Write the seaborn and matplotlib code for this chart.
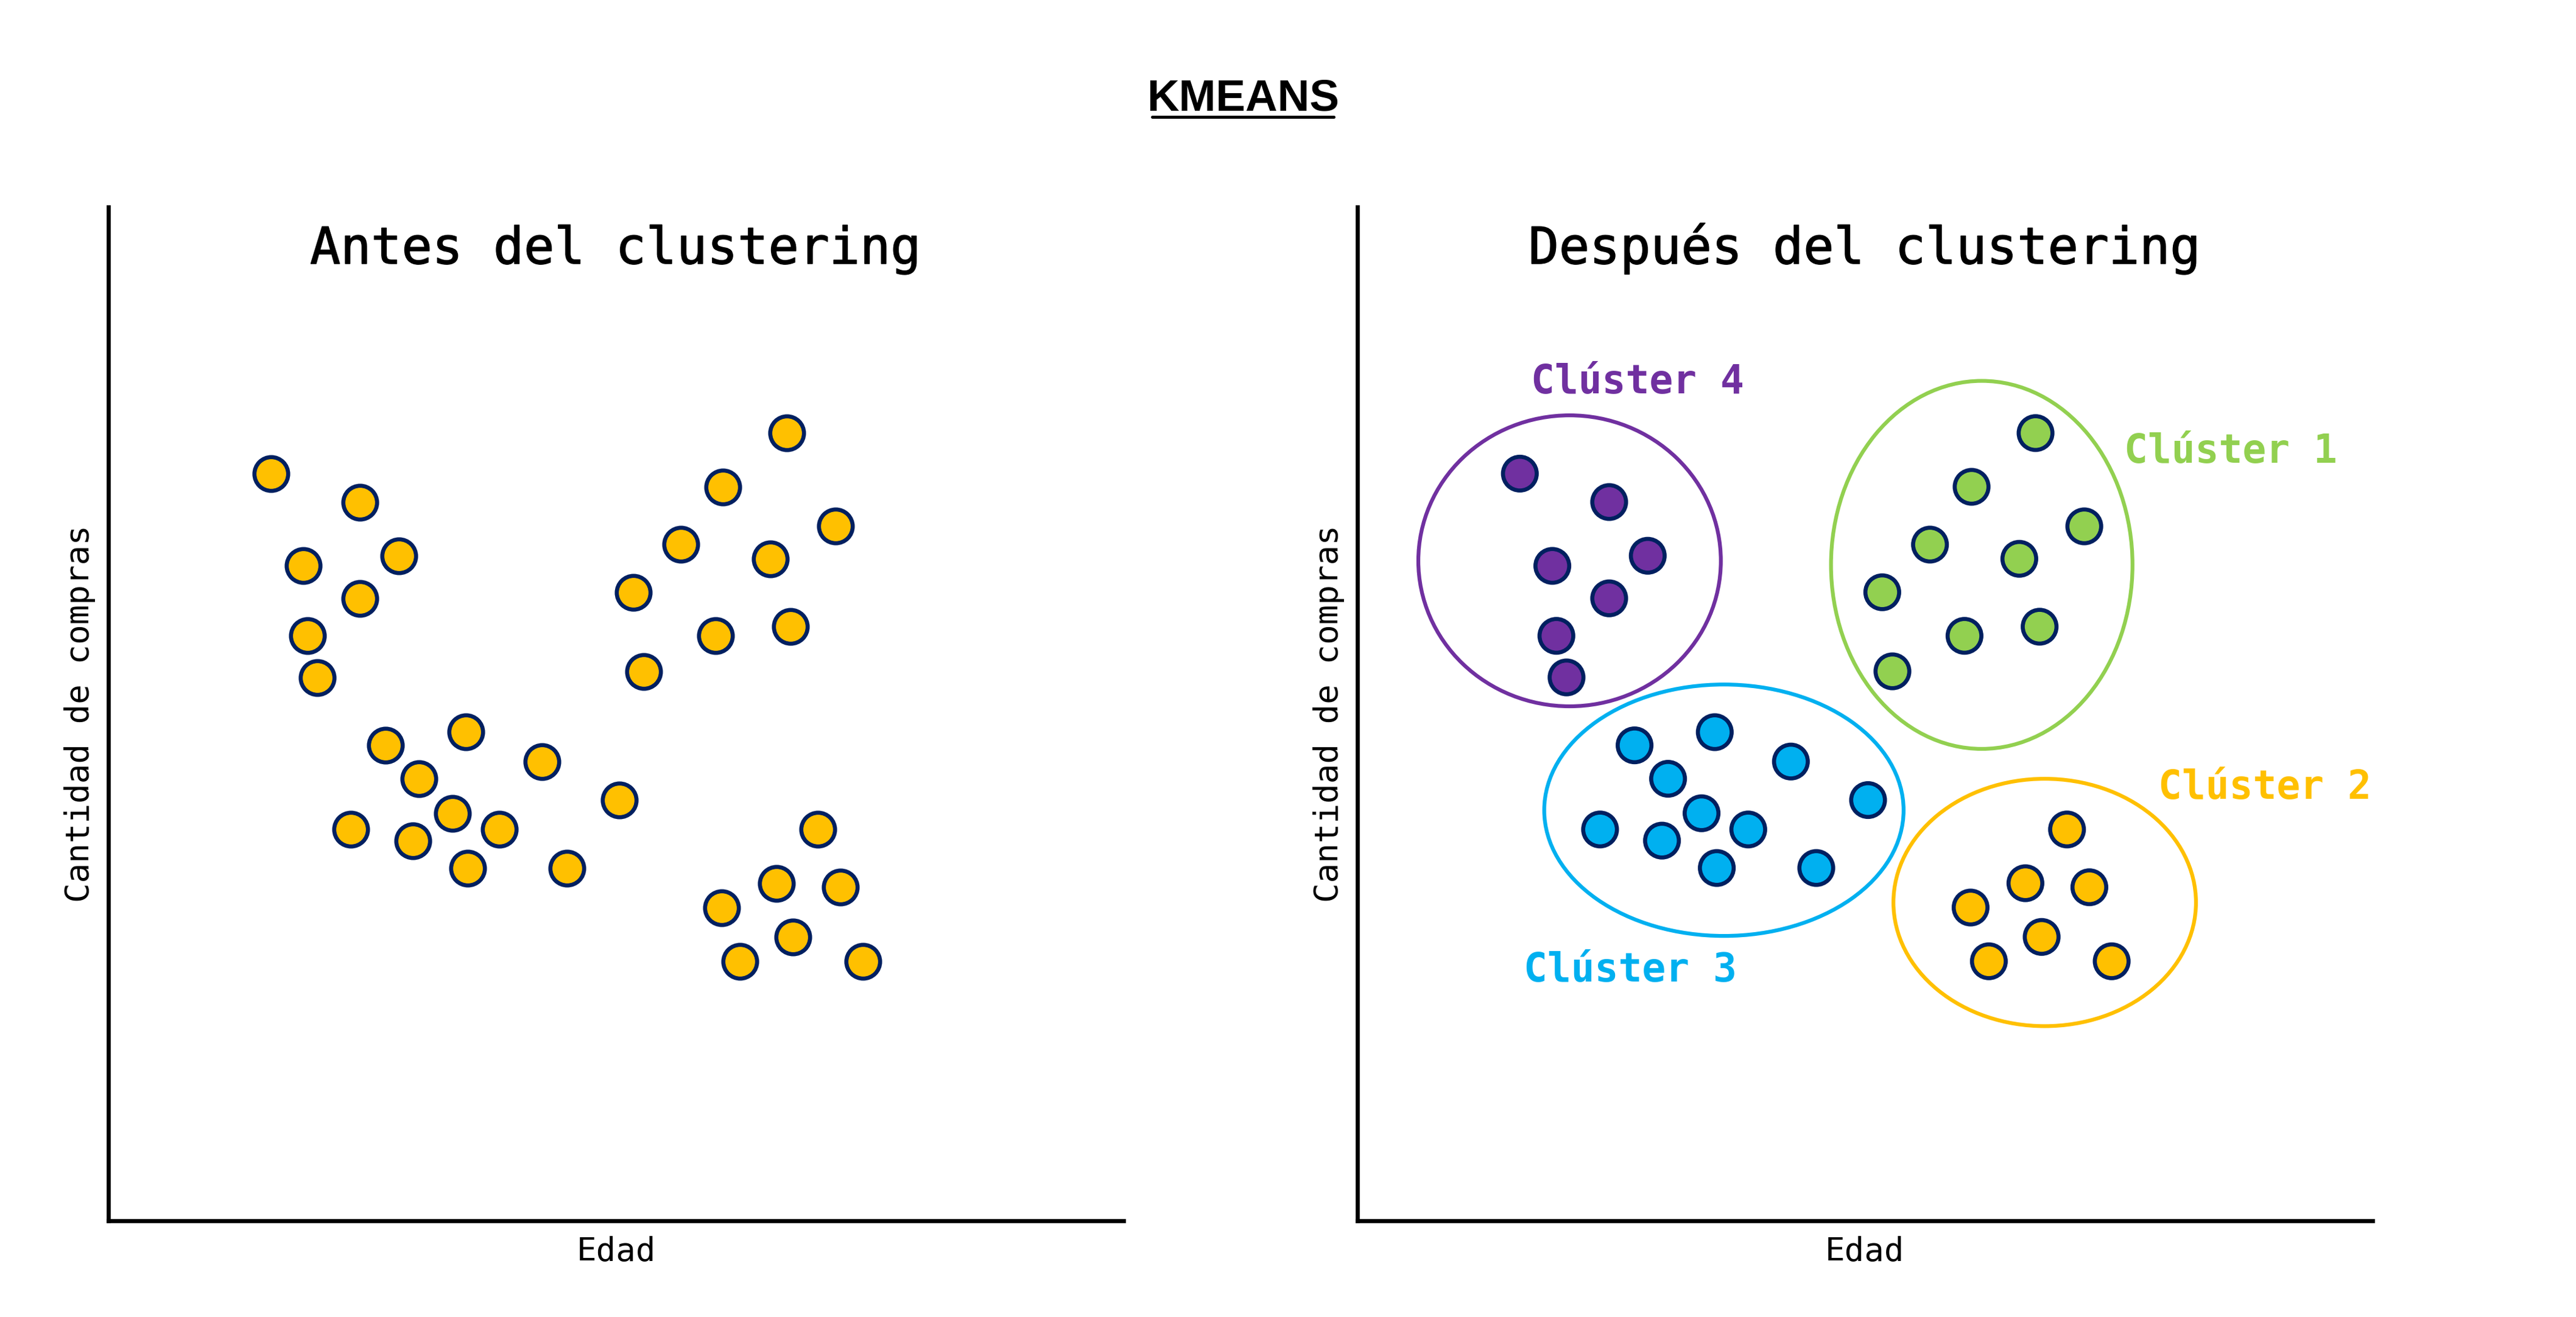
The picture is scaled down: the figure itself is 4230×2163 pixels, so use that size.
import matplotlib
matplotlib.use("Agg")
import matplotlib.pyplot as plt
from matplotlib.patches import Ellipse
from matplotlib.lines import Line2D
import matplotlib.patheffects as pe
import seaborn as sns
import pandas as pd

# ---------------- data ----------------
edad = [16.0, 24.8, 28.6, 19.2, 24.8, 19.6, 20.6,
        27.3, 35.2, 30.6, 42.7, 33.9, 23.9, 30.0, 38.5, 35.4, 45.2, 50.3,
        66.8, 60.5, 71.6, 56.4, 65.2, 51.7, 59.8, 67.2, 52.7,
        69.9, 65.8, 72.1, 60.4, 67.4, 62.2, 74.3]
compras = [73.7, 70.9, 65.6, 64.6, 61.4, 57.7, 53.6,
           46.9, 48.2, 43.6, 45.3, 40.2, 38.6, 37.5, 38.6, 34.8, 34.8, 41.5,
           77.7, 72.4, 68.5, 66.7, 65.3, 62.0, 57.7, 58.6, 54.2,
           38.6, 33.3, 32.9, 30.9, 28.0, 25.6, 25.6]
cluster = (["Clúster 4"] * 7 + ["Clúster 3"] * 11 +
           ["Clúster 1"] * 9 + ["Clúster 2"] * 7)

cluster_names = ["Clúster 1", "Clúster 2", "Clúster 3", "Clúster 4"]
cluster_colors = ["#92D050", "#FFC000", "#00B0F0", "#7030A0"]
ellipse_cx = [61.5, 67.7, 36.1, 20.9]
ellipse_cy = [64.7, 31.4, 40.5, 65.1]
ellipse_w = [29.7, 29.8, 35.4, 29.8]
ellipse_h = [36.3, 24.4, 24.8, 28.7]
label_x = [75.5, 78.9, 16.4, 17.1]
label_y = [74.8, 41.6, 23.6, 81.6]

titles = ["Antes del clustering", "Después del clustering"]
suptitle = "KMEANS"
xlabel = "Edad"
ylabel = "Cantidad de compras"

df = pd.DataFrame({"Edad": edad, "Compras": compras, "Cluster": cluster})

# ---------------- style ----------------
sns.set_style("white")
MONO = ["DejaVu Sans Mono"]
plt.rcParams["font.family"] = ["DejaVu Sans Mono", "DejaVu Sans"]
plt.rcParams["text.color"] = "black"
plt.rcParams["axes.labelcolor"] = "black"

fig = plt.figure(figsize=(14.1, 7.21), dpi=300)
W, H = 4230, 2163
ax_w, ax_h = 1667 / W, 1665 / H
bottom = (H - 2005) / H
ax1 = fig.add_axes([178 / W, bottom, ax_w, ax_h])
ax2 = fig.add_axes([2229 / W, bottom, ax_w, ax_h])

navy = "#002060"
ms = 177
mlw = 1.6

sns.scatterplot(data=df, x="Edad", y="Compras", ax=ax1, s=ms,
                color="#FFC000", edgecolor=navy, linewidth=mlw, zorder=3)

palette = dict(zip(cluster_names, cluster_colors))
sns.scatterplot(data=df, x="Edad", y="Compras", hue="Cluster", ax=ax2, s=ms,
                palette=palette, edgecolor=navy, linewidth=mlw, legend=False,
                zorder=3)

for name, col, cx, cy, w, h, lx, ly in zip(cluster_names, cluster_colors,
                                            ellipse_cx, ellipse_cy, ellipse_w,
                                            ellipse_h, label_x, label_y):
    ax2.add_patch(Ellipse((cx, cy), w, h, fill=False, edgecolor=col,
                          linewidth=1.5, zorder=2))
    ax2.text(lx, ly, name, color=col, fontsize=15.5, fontweight="bold",
             family=MONO, ha="left", va="baseline")

for ax, t in zip([ax1, ax2], titles):
    ax.set_xlim(0, 100)
    ax.set_ylim(0, 100)
    ax.set_xticks([])
    ax.set_yticks([])
    for sp in ["top", "right"]:
        ax.spines[sp].set_visible(False)
    for sp in ["left", "bottom"]:
        ax.spines[sp].set_color("black")
        ax.spines[sp].set_linewidth(1.6)
    ax.set_xlabel(xlabel, fontsize=13, family=MONO, labelpad=6, color="black")
    ax.set_ylabel(ylabel, fontsize=13, family=MONO, labelpad=5, color="black")
    ttl = ax.set_title(t, fontsize=20, family=MONO, y=(2005 - 433) / 1665,
                       pad=0, color="black")
    ttl.set_path_effects([pe.withStroke(linewidth=0.35, foreground="black")])

fig.text(2041 / W, 1 - 181 / H, suptitle, ha="center", va="baseline",
         fontsize=17.5, fontweight="bold", family=["Liberation Sans"],
         color="black")
fig.add_artist(Line2D([1892 / W, 2190 / W], [1 - 191.5 / H, 1 - 191.5 / H],
                      color="black", linewidth=1.2, transform=fig.transFigure))

fig.savefig("out.png", dpi=300, facecolor="white")
